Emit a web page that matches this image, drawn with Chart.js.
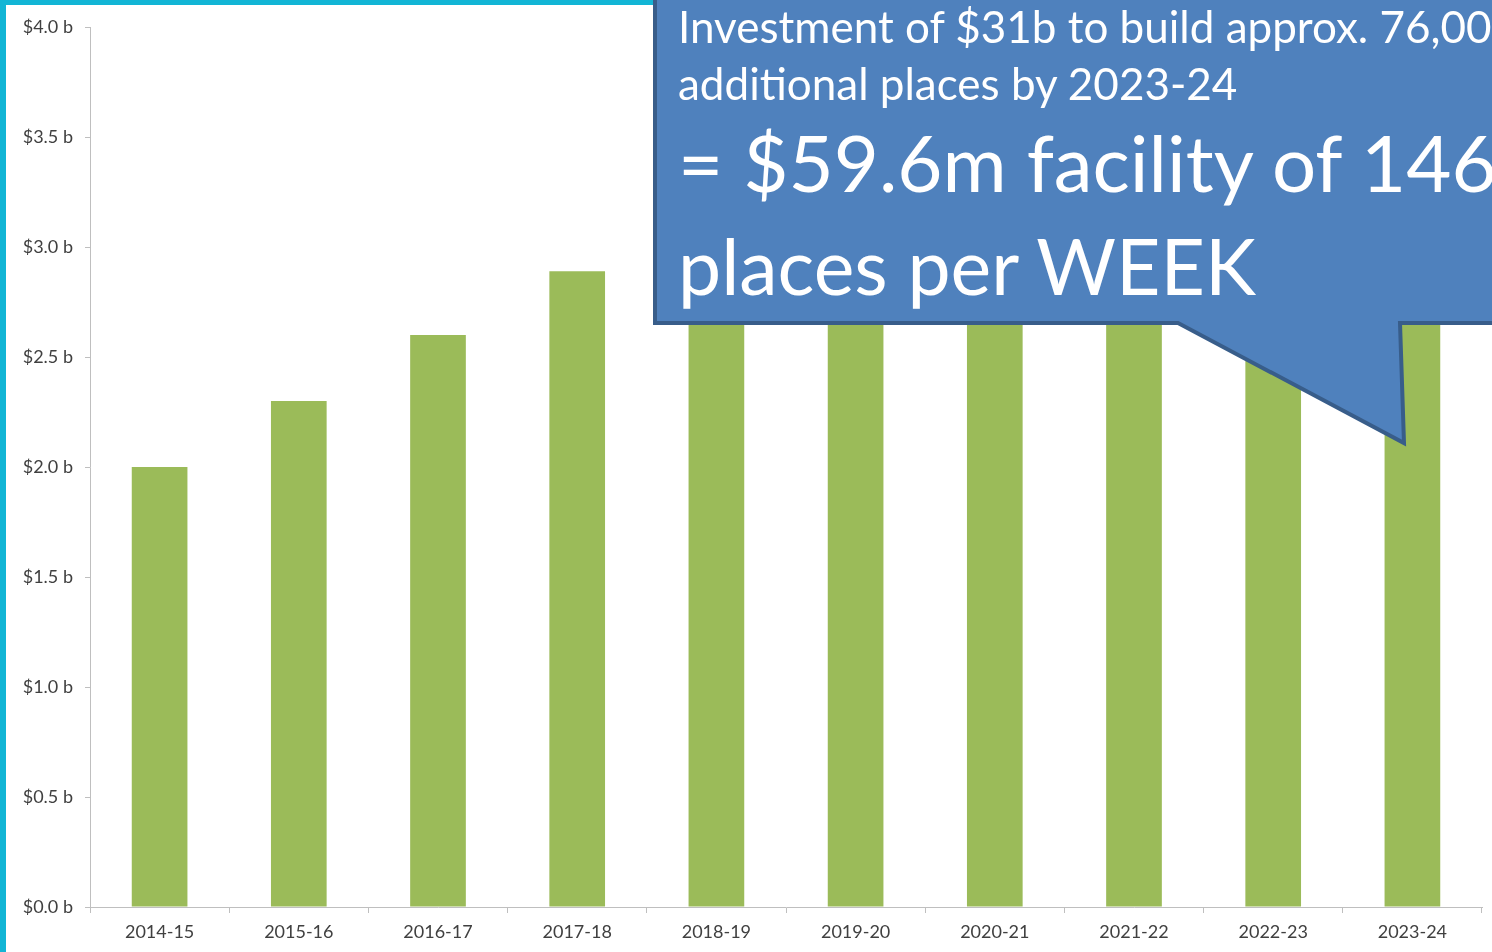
<!DOCTYPE html>
<html>
<head>
<meta charset="utf-8">
<script src="https://cdn.jsdelivr.net/npm/chart.js@4/dist/chart.umd.min.js"></script>
<style>
  html, body { margin: 0; padding: 0; background: #ffffff; }
  #wrap { position: relative; width: 1492px; height: 952px; overflow: hidden; }
  #c { position: absolute; left: 0; top: 0; }
  .cyanL { position: absolute; left: 0; top: 0; width: 6px; height: 952px; background: #12B5D5; }
  .cyanT { position: absolute; left: 0; top: 0; width: 700px; height: 5px; background: #12B5D5; }
  #callout { position: absolute; left: 0; top: 0; }
  #callout text { fill: #ffffff; font-family: Lato, "Open Sans", sans-serif; }
</style>
</head>
<body>
<div id="wrap">
  <canvas id="c" width="1492" height="952"></canvas>
  <div class="cyanL"></div>
  <div class="cyanT"></div>
  <svg id="callout" width="1492" height="952" xmlns="http://www.w3.org/2000/svg">
    <path d="M655,-10 L1500,-10 L1500,323 L1400,323 L1404,443 L1178,323 L655,323 Z"
          fill="#4F81BD" stroke="#385D8A" stroke-width="4" stroke-linejoin="miter"/>
    <text x="678" y="43" font-size="44">Investment of $31b to build approx. 76,000</text>
    <text x="678" y="100" font-size="44">additional places by 2023-24</text>
    <text x="678" y="192" font-size="78">= $59.6m facility of 146</text>
    <text x="678" y="295" font-size="77">places per WEEK</text>
  </svg>
</div>
<script>
const categories = ["2014-15","2015-16","2016-17","2017-18","2018-19","2019-20","2020-21","2021-22","2022-23","2023-24"];
// values in $ billions (later years hidden behind the callout; estimated)
const spending = [2.0, 2.3, 2.6, 2.89, 3.1, 3.2, 3.3, 3.4, 3.5, 3.6];
const yMin = 0, yMax = 4.0, yStep = 0.5;

const axisColor = "#BFBFBF";
const labelColor = "#404040";

new Chart(document.getElementById("c"), {
  type: "bar",
  data: {
    labels: categories,
    datasets: [{
      data: spending,
      backgroundColor: "#9BBB59",
      borderWidth: 0,
      barPercentage: 0.8,
      categoryPercentage: 0.5
    }]
  },
  options: {
    responsive: false,
    animation: false,
    plugins: { legend: { display: false }, tooltip: { enabled: false } },
    layout: { padding: { top: 27, right: 10, bottom: 0, left: 0 } },
    scales: {
      x: {
        grid: { display: true, drawOnChartArea: false, drawTicks: true, tickLength: 6, color: axisColor, offset: true },
        border: { display: true, color: axisColor, width: 1 },
        ticks: { color: labelColor, font: { family: "Lato", size: 18 }, padding: 8, maxRotation: 0 },
        afterFit(scale) { scale.height = 45; }
      },
      y: {
        min: yMin, max: yMax,
        grid: { display: true, drawOnChartArea: false, drawTicks: true, tickLength: 5, color: axisColor },
        border: { display: true, color: axisColor, width: 1 },
        ticks: {
          stepSize: yStep,
          color: labelColor,
          font: { family: "Lato", size: 18 },
          padding: 12,
          callback: v => "$" + Number(v).toFixed(1) + " b"
        },
        afterFit(scale) { scale.width = 90; }
      }
    }
  }
});
</script>
</body>
</html>
